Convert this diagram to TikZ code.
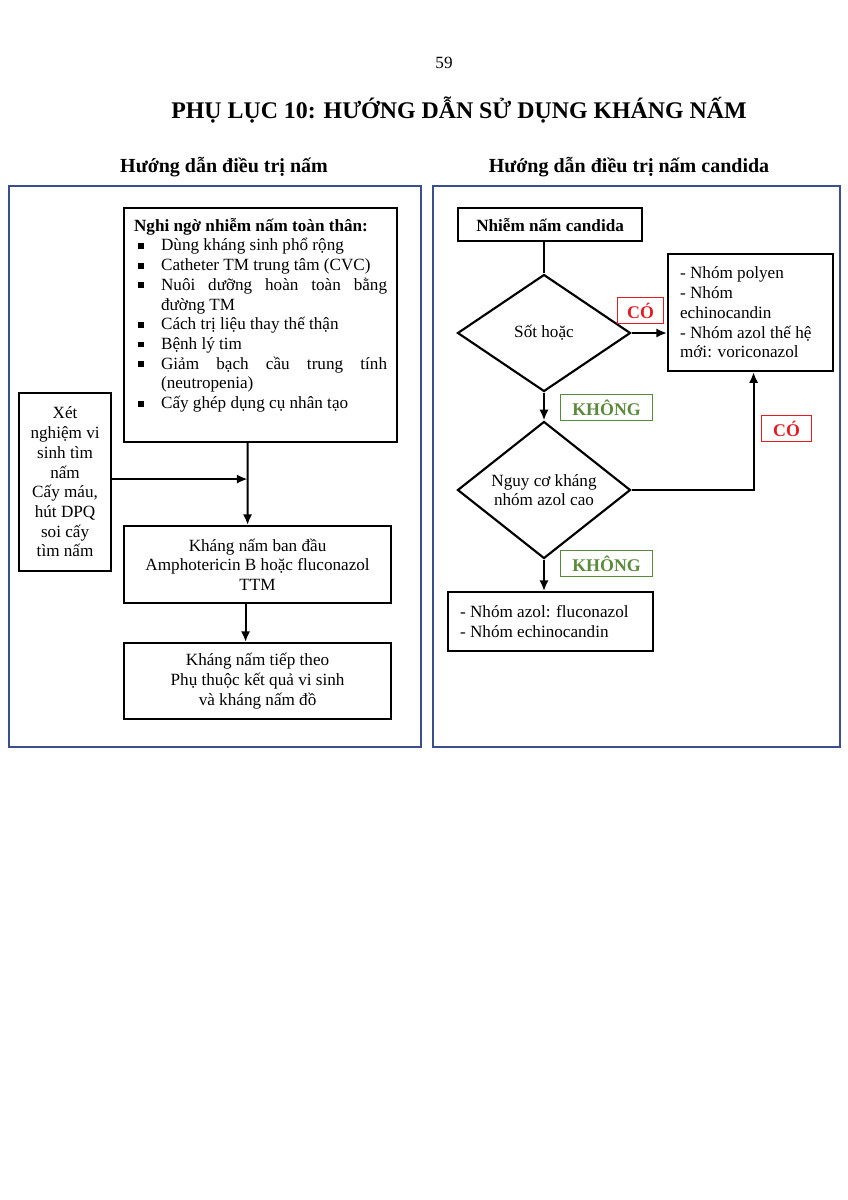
\documentclass[tikz,border=0pt]{standalone}
\usepackage{fontspec}
\setmainfont{Liberation Serif}
\usepackage{xcolor}
\usetikzlibrary{shapes.geometric, arrows.meta}

\definecolor{khung}{HTML}{3B4F8C}
\definecolor{codo}{HTML}{E31B23}
\definecolor{khongxanh}{HTML}{5A8A3C}
\newcommand{\px}{0.7pt}
\newcommand{\vuong}{\rule[0.12em]{0.34em}{0.34em}}

\begin{document}
\begin{tikzpicture}[x=0.7pt, y=-0.7pt,
		hop/.style={draw, line width=1.5pt, inner sep=0pt, anchor=north west,
				font=\fontsize{12}{13.8}\selectfont},
		thoi/.style={draw, diamond, line width=1.5pt, inner sep=0pt,
				minimum width=173*\px, minimum height=117*\px, align=center,
				font=\fontsize{12}{13.8}\selectfont},
		nhan/.style={draw, line width=0.8pt, inner sep=0pt, anchor=north west,
				minimum height=26*\px, font=\fontsize{12.5}{13.8}\selectfont\bfseries},
		muiten/.style={line width=1.5pt, -{Latex[length=7.5pt, width=6.5pt]}},
		noi/.style={line width=1.5pt}
	]

		\useasboundingbox (0, 0) rectangle (848, 1200);

		% tieu de
		\node (trang) at (444, 63) {\fontsize{12}{14}\selectfont 59};
		\node (tieude) at (459, 110) {\fontsize{16.7}{18}\selectfont\bfseries PHỤ LỤC 10: HƯỚNG DẪN SỬ DỤNG KHÁNG NẤM};
		\node (tdtrai) at (224, 167) {\fontsize{14}{16}\selectfont\bfseries Hướng dẫn điều trị nấm};
		\node (tdphai) at (629, 167) {\fontsize{14}{16}\selectfont\bfseries Hướng dẫn điều trị nấm candida};

		% hai khung
		\draw[khung, line width=1pt] (9, 186) rectangle (421, 747);
		\draw[khung, line width=1pt] (433, 186) rectangle (840, 747);

		% ben trai
		\node[hop, inner xsep=10*\px] (nghi) at (123, 207) {\parbox[c][163.8pt][t]{177.1pt}{%
				\hyphenpenalty=10000 \exhyphenpenalty=10000
				\vspace*{7pt}\textbf{Nghi ngờ nhiễm nấm toàn thân:}
				\begin{list}{\vuong}{\setlength{\leftmargin}{18.9pt}\setlength{\labelwidth}{12pt}
						\setlength{\labelsep}{12pt}\setlength{\topsep}{0pt}\setlength{\partopsep}{0pt}
						\setlength{\itemsep}{0pt}\setlength{\parsep}{0pt}}
					\item Dùng kháng sinh phổ rộng
					\item Catheter TM trung tâm (CVC)
					\item Nuôi dưỡng hoàn toàn bằng\linebreak đường TM
					\item Cách trị liệu thay thế thận
					\item Bệnh lý tim
					\item Giảm bạch cầu trung tính\linebreak (neutropenia)
					\item Cấy ghép dụng cụ nhân tạo
				\end{list}}};

		\node[hop, align=center, minimum width=92*\px, minimum height=178*\px] (xet) at (18, 392)
		{Xét\\nghiệm vi\\sinh tìm\\nấm\\Cấy máu,\\hút DPQ\\soi cấy\\tìm nấm};

		\node[hop, align=center, minimum width=267*\px, minimum height=77*\px] (bandau) at (123, 525)
		{Kháng nấm ban đầu\\Amphotericin B hoặc fluconazol\\TTM};

		\node[hop, align=center, minimum width=267*\px, minimum height=76*\px] (tiep) at (123, 642)
		{Kháng nấm tiếp theo\\Phụ thuộc kết quả vi sinh\\và kháng nấm đồ};

		\coordinate (nga) at ([xshift=-10*\px]bandau.north);
		\draw[muiten] ([xshift=-13*\px]nghi.south) -- (nga);
		\draw[muiten] ([yshift=3*\px]xet.east) -- ([yshift=3*\px]xet.east -| nga);
		\draw[muiten] ([xshift=-12*\px]bandau.south) -- ([xshift=-12*\px]tiep.north);

		% ben phai
		\node[hop, font=\fontsize{12}{13.8}\selectfont\bfseries, minimum width=184*\px, minimum height=33*\px] (nhiem) at (457, 207)
		{Nhiễm nấm candida};

		\node[thoi] (sot) at (544, 333) {Sốt hoặc};
		\node[thoi] (nguyco) at (544, 490) {Nguy cơ kháng\\nhóm azol cao};

		\node[hop, inner xsep=12*\px, minimum height=117*\px] (nhom) at (667, 253)
		{\parbox{98.7pt}{\raggedright - Nhóm polyen\\- Nhóm\\echinocandin\\- Nhóm azol thế hệ\\mới: voriconazol}};

		\node[hop, inner xsep=12*\px, minimum height=59*\px] (azol) at (447, 591)
		{\parbox{126.7pt}{\raggedright - Nhóm azol: fluconazol\\- Nhóm echinocandin}};

		\node[nhan, codo, minimum width=46*\px] (co1) at (617, 297) {CÓ};
		\node[nhan, codo, minimum width=50*\px] (co2) at (761, 415) {CÓ};
		\node[nhan, khongxanh, minimum width=92*\px] (khong1) at (560, 394) {KHÔNG};
		\node[nhan, khongxanh, minimum width=92*\px] (khong2) at (560, 550) {KHÔNG};

		\draw[noi] (sot.north |- nhiem.south) -- (sot.north);
		\draw[muiten] (sot.east) -- (sot.east -| nhom.west);
		\draw[muiten] (sot.south) -- (nguyco.north);
		\draw[muiten] (nguyco.east) -| ([xshift=3*\px]nhom.south);
		\draw[muiten] (nguyco.south) -- (nguyco.south |- azol.north);

	\end{tikzpicture}
\end{document}
